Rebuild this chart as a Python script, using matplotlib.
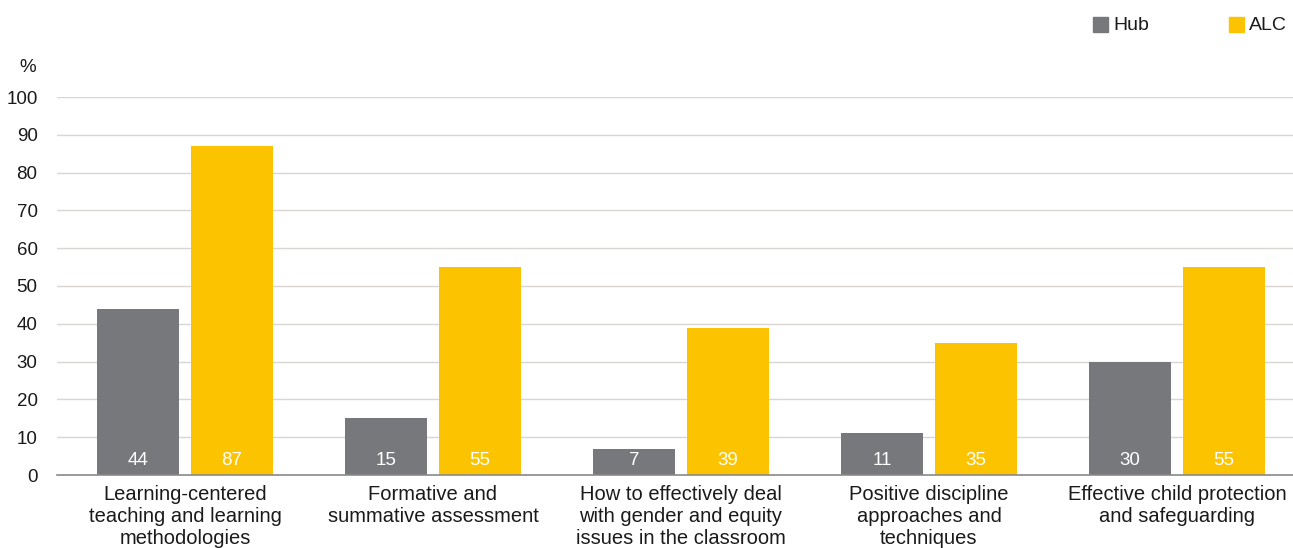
import matplotlib
matplotlib.use("Agg")
import matplotlib.pyplot as plt
from matplotlib.patches import Rectangle
import numpy as np

categories = [
    "Learning-centered\nteaching and learning\nmethodologies",
    "Formative and\nsummative assessment",
    "How to effectively deal\nwith gender and equity\nissues in the classroom",
    "Positive discipline\napproaches and\ntechniques",
    "Effective child protection\nand safeguarding",
]
hub = [44, 15, 7, 11, 30]
alc = [87, 55, 39, 35, 55]
yticks = [0, 10, 20, 30, 40, 50, 60, 70, 80, 90, 100]
series_names = ["Hub", "ALC"]

HUB_COLOR = "#77787B"
ALC_COLOR = "#FCC400"
TEXT_COLOR = "#1a1a1a"
FONT = ["Liberation Sans", "DejaVu Sans"]

fig = plt.figure(figsize=(12.93, 5.48), dpi=100)
ax = fig.add_axes([57 / 1293, 73 / 548, 1 - 57 / 1293, (475 - 97) / 548])

x = np.arange(len(categories))
w = 0.33
off = 0.19
ax.bar(x - off, hub, width=w, color=HUB_COLOR, zorder=3)
ax.bar(x + off, alc, width=w, color=ALC_COLOR, zorder=3)

for xi, v in zip(x, hub):
    ax.text(xi - off, 3.9, str(v), ha="center", va="center", color="white",
            fontsize=13.5, family=FONT, zorder=4)
for xi, v in zip(x, alc):
    ax.text(xi + off, 3.9, str(v), ha="center", va="center", color="white",
            fontsize=13.5, family=FONT, zorder=4)

ax.set_xlim(-0.516, 4.468)
ax.set_ylim(0, 100)
ax.set_yticks(yticks)
ax.set_yticklabels([str(t) for t in yticks], fontsize=13.5, family=FONT,
                   color=TEXT_COLOR)
ax.tick_params(axis="y", length=0, pad=14)
ax.tick_params(axis="x", length=0, pad=7)
ax.set_xticks(x)
ax.set_xticklabels(categories, fontsize=14.5, family=FONT, color=TEXT_COLOR,
                   linespacing=1.2, va="top")

ax.grid(axis="y", color="#d9d6d2", linewidth=1, zorder=0)
for s in ["top", "right", "left"]:
    ax.spines[s].set_visible(False)
ax.spines["bottom"].set_color("#8a8a8a")
ax.spines["bottom"].set_linewidth(1.2)
ax.spines["bottom"].set_zorder(5)

fig.text(28 / 1293, 1 - 67 / 548, "%", ha="center", va="center",
         fontsize=13.5, family=FONT, color=TEXT_COLOR)

# legend drawn in figure coordinates
for name, color, px in [(series_names[0], HUB_COLOR, 1093), (series_names[1], ALC_COLOR, 1229)]:
    fig.patches.append(Rectangle((px / 1293, 1 - 32 / 548), 15 / 1293, 15 / 548,
                                 transform=fig.transFigure, color=color))
    fig.text((px + 20) / 1293, 1 - 25 / 548, name, ha="left", va="center",
             fontsize=14, family=FONT, color=TEXT_COLOR)

fig.savefig("out.png", dpi=100, facecolor="white")
